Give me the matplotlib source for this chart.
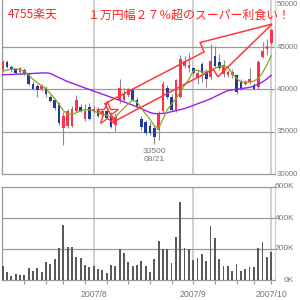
import matplotlib
matplotlib.use('Agg')
import matplotlib.pyplot as plt
from matplotlib.patches import Polygon
import numpy as np

# ---- data ----
opens  = [42400,43200,42700,42400,42100,42300,41800,40700,40400,40000,40200,39100,38700,38200,35400,35700,35700,37500,37900,36500,37900,37400,37700,37000,37400,37000,35800,38700,38800,39400,39900,38700,36500,36100,35700,35500,35200,37400,40200,39100,37400,39100,42800,42500,42500,41400,43000,42100,41500,44000,43200,41800,41700,41700,41700,40900,40700,40900,40500,40300,43900,44800,45500]
highs  = [43500,43500,42900,42600,42700,42500,42000,41000,40600,40600,40400,39300,38900,38500,37300,37700,38000,39300,38300,38300,38400,38000,37900,37700,37700,37300,37200,41200,40200,40200,40200,39100,36900,36400,36200,35800,37400,41000,40500,39500,41300,44100,44000,44300,42700,42300,43200,42400,45400,45200,44200,43500,42300,42400,41800,41200,41100,42600,40800,43500,45600,46000,47200]
lows   = [42100,42500,42100,41800,41800,41700,40500,39900,39100,39800,39100,38500,37600,35800,33400,35500,35600,37300,37300,36300,36400,37200,36700,36800,36500,35500,35100,38400,38600,39100,38600,37900,35200,34600,34600,33500,34000,37200,38900,37400,37300,39000,42500,42100,41700,40600,40900,40300,41300,42500,42300,41500,41500,41400,39500,39900,40500,40700,39900,40100,43700,44100,45300]
closes = [43300,42700,42300,42000,42500,41900,40700,40100,39900,40400,39500,38600,37800,36000,36900,37500,37700,38700,37500,37500,36500,37700,36900,37500,36600,35600,36800,40200,39500,40000,38700,38100,35600,34900,34900,34400,37200,40700,39100,37600,41100,43600,43400,42900,41900,42000,41900,41300,43400,42800,42500,42900,42100,42100,39700,40200,40900,41300,40000,43200,44600,45200,47000]
volumes_k = [92,54,26,39,32,32,77,60,77,54,118,105,135,209,357,215,215,151,144,97,86,92,73,65,43,97,92,200,172,118,92,97,123,92,54,135,254,198,198,112,280,505,204,198,129,144,168,125,348,273,133,90,90,60,103,60,71,82,82,204,243,146,181]
ma_short = [42200,42300,42400,42450,42350,42150,41700,41200,40800,40450,40100,39500,38950,38250,37500,37100,37050,37250,37450,37600,37600,37450,37250,37050,36950,36700,36700,37300,37800,38300,38750,38500,37800,37100,36500,35700,35400,36500,37600,38300,38900,39700,40500,41200,42200,42300,42050,42100,42250,42500,42750,42750,42650,41900,41300,40900,40880,40880,41000,41300,42000,42900,44000]
ma_long = [41750,41760,41780,41800,41820,41850,41880,41900,41930,41950,41970,41900,41650,41410,41170,40930,40750,40560,40370,40180,40000,39800,39640,39450,39270,39080,38900,38720,38530,38340,38150,37930,37720,37500,37280,37150,37150,37160,37250,37380,37500,37620,37740,37930,38120,38310,38500,38700,38900,39150,39400,39650,39880,39950,40020,40100,40170,40250,40400,40650,40900,41250,41680]
month_idx = [21, 44, 62]
month_labels = ['2007/8', '2007/9', '2007/10']
week_idx = [5, 10, 14, 19, 24, 29, 34, 39, 44, 49, 54, 58, 62]
price_ticks = [50000, 45000, 40000, 35000, 30000]
vol_ticks = [600, 400, 200, 0]
vol_tick_labels = ['600K', '400K', '200K', '0K']
low_label = ['33500', '08/21']
low_idx = 35
title_left = '4755楽天'
title_right = '１万円幅２７％超のスーパー利食い！'
arrow_idx = [23.6, 46.5, 45.6, 62.2, 49.7, 48.6, 25.7]
arrow_price = [38330, 44450, 45560, 47740, 41510, 42390, 36210]
star_pos = (24.2, 37270)

RED = '#ff3049'
BLUE = '#1f3b9e'
WICK = '#8c8c8c'
GRID = '#999999'
VGRID = '#cfcfcf'
TXT = '#777777'
NUMFONT = ['Liberation Sans', 'DejaVu Sans']
CJK = ['Noto Sans CJK JP', 'DejaVu Sans']

W = H = 300
fig = plt.figure(figsize=(3, 3), dpi=100)
fig.patch.set_facecolor('white')

def fx(p):
    return p / W

def fy(p):
    return 1 - p / H

ax = fig.add_axes([fx(2), fy(174), fx(275) - fx(2), fy(0) - fy(174)])
axv = fig.add_axes([fx(2), fy(280), fx(275) - fx(2), fy(187) - fy(280)])

n = len(opens)
x = np.arange(n)
o = np.array(opens); c = np.array(closes); hi = np.array(highs); lo = np.array(lows)
up = c >= o

for a in (ax, axv):
    a.set_xlim(-0.16, 62.88)
    for m in month_idx:
        a.axvline(m, color=VGRID, lw=1.4, zorder=0)
    a.set_facecolor('white')

# price panel
ax.set_ylim(30000, 50590)
for p in price_ticks[1:4]:
    ax.axhline(p, color=GRID, lw=0.9, zorder=0.5)
ax.vlines(x, lo, hi, color=WICK, lw=0.8, zorder=2)
body_bottom = np.minimum(o, c)
body_h = np.maximum(np.abs(c - o), 80)
ax.bar(x, body_h, bottom=body_bottom, width=0.62,
       color=[RED if u else BLUE for u in up], linewidth=0, zorder=3)
ax.plot(x, ma_long, color='#9a1ff0', lw=1.0, zorder=4)
ax.plot(x, ma_short, color='#86a81e', lw=0.9, zorder=4)

arrow = Polygon(np.column_stack([arrow_idx, arrow_price]), closed=True,
                fill=False, edgecolor='#ff3838', lw=1.1, zorder=5, clip_on=False)
ax.add_patch(arrow)
ax.plot([star_pos[0]], [star_pos[1]], marker='*', markersize=17,
        markerfacecolor='none', markeredgecolor='#ff4040', markeredgewidth=1.0, zorder=5)
ax.text(low_idx, lows[low_idx] - 450, low_label[0] + '\n' + low_label[1],
        ha='center', va='top', fontsize=6.0, color=TXT, family=NUMFONT, linespacing=1.2)

ax.set_xticks([]); ax.set_yticks([])
ax.spines['top'].set_visible(False)
ax.spines['left'].set_color(GRID)
ax.spines['bottom'].set_color(GRID)
ax.spines['right'].set_color(VGRID)
for s in ax.spines.values():
    s.set_linewidth(0.9)
for p in price_ticks:
    ax.text(1.0055, p, str(p), transform=ax.get_yaxis_transform(), ha='left', va='center',
            fontsize=5.7, color=TXT, family=NUMFONT, clip_on=False)

# volume panel
axv.set_ylim(0, 600)
for v in vol_ticks[1:3]:
    axv.axhline(v, color=GRID, lw=0.9, zorder=0.5)
axv.bar(x, volumes_k, width=0.42, color='#5a5a5a', linewidth=0, zorder=3)
axv.set_yticks([])
axv.set_xticks(week_idx)
axv.set_xticklabels([])
axv.tick_params(axis='x', direction='out', length=3, width=0.8, color=GRID)
axv.spines['top'].set_color(GRID)
axv.spines['left'].set_color(GRID)
axv.spines['bottom'].set_color(GRID)
axv.spines['right'].set_color(VGRID)
for s in axv.spines.values():
    s.set_linewidth(0.9)
for v, lab in zip(vol_ticks, vol_tick_labels):
    axv.text(1.07, v, lab, transform=axv.get_yaxis_transform(), ha='right', va='center',
             fontsize=6.0, color=TXT, family=NUMFONT, clip_on=False)
for m, lab in zip(month_idx, month_labels):
    axv.text(m, -0.16, lab, transform=axv.get_xaxis_transform(), ha='center', va='center',
             fontsize=6.3, color=TXT, family=NUMFONT, clip_on=False)

# titles
fig.text(fx(8), fy(15), title_left, ha='left', va='center', fontsize=8.5,
         color='#ff2020', family=CJK)
fig.text(fx(88), fy(15), title_right, ha='left', va='center', fontsize=8.6,
         color='#ff2020', family=CJK)

fig.savefig('out.png', dpi=100, facecolor='white')
